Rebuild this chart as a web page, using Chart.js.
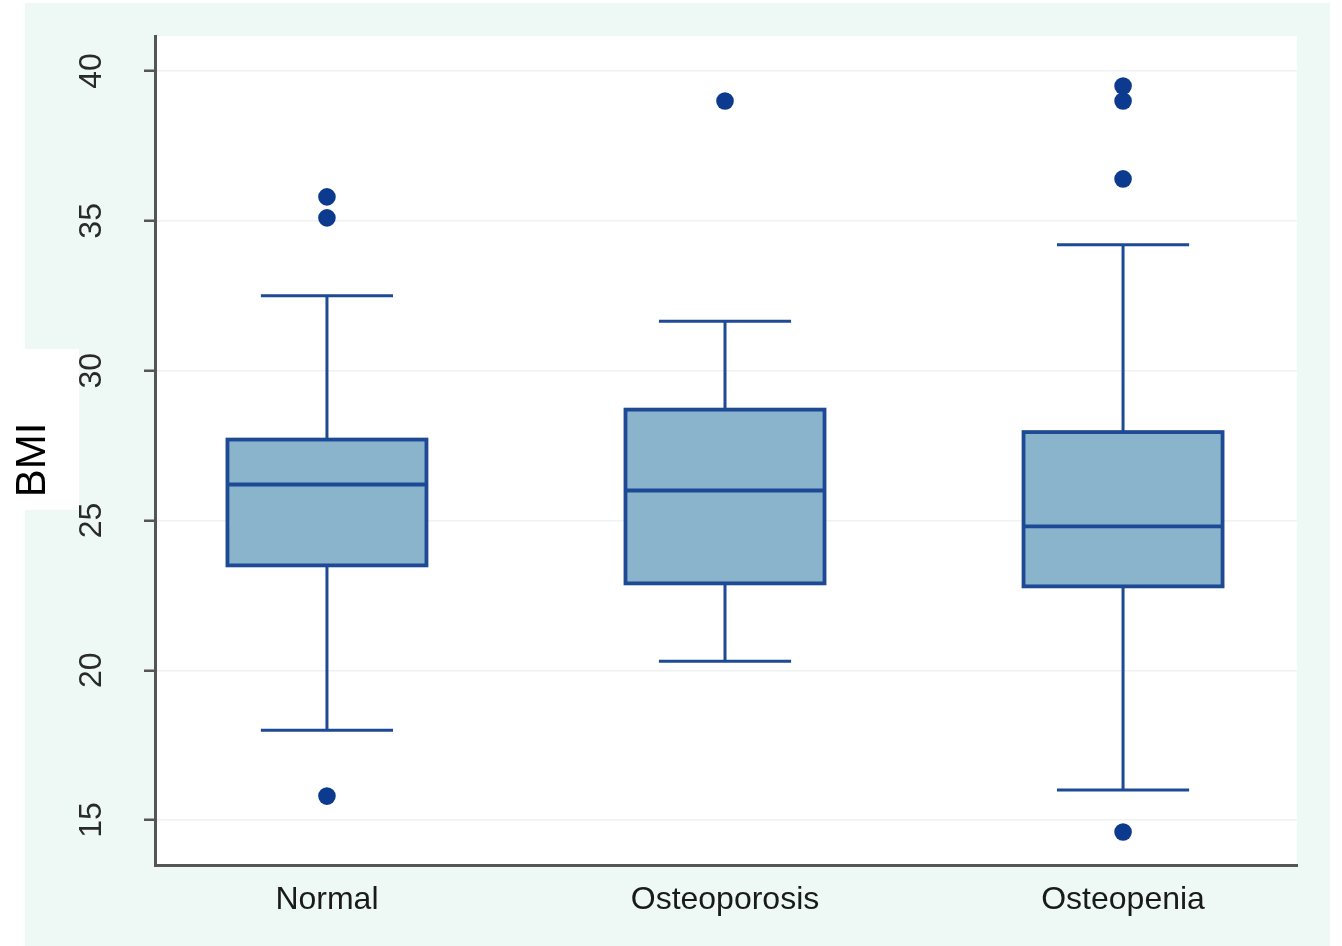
<!DOCTYPE html>
<html>
<head>
<meta charset="utf-8">
<title>BMI box plot</title>
<script src="https://cdn.jsdelivr.net/npm/chart.js@4/dist/chart.umd.min.js"></script>
<style>
  html, body { margin: 0; padding: 0; background: #fff; }
  #wrap { position: relative; width: 1342px; height: 946px; }
  #bmiBox {
    position: absolute; left: 25px; top: 349px; width: 54px; height: 161px;
    background: #fff;
  }
  #bmiBox span {
    position: absolute; left: 6px; top: 111px;
    transform: translate(-50%, -50%) rotate(-90deg);
    font: 42px "Liberation Sans", Arial, sans-serif; color: #000;
    white-space: nowrap;
  }
</style>
</head>
<body>
<div id="wrap">
  <canvas id="boxChart" width="1342" height="946"></canvas>
  <div id="bmiBox"><span>BMI</span></div>
</div>
<script>
// Data
const categories = ["Normal", "Osteoporosis", "Osteopenia"];
const whiskerLow = [18.0, 20.3, 16.0];
const q1 = [23.5, 22.9, 22.8];
const median = [26.2, 26.0, 24.8];
const q3 = [27.7, 28.7, 27.95];
const whiskerHigh = [32.5, 31.65, 34.2];
const outliers = [
  [15.8, 35.1, 35.8],
  [39.0],
  [14.6, 36.4, 39.0, 39.5],
];
const yTicks = [15, 20, 25, 30, 35, 40];

// Styles
const boxFill = "#8ab3cc";
const boxLine = "#1e4a95";
const dotColor = "#0b3a8f";
const boxWidth = 0.5;   // in x units
const capWidth = 0.332;

// Mint page background + white plot area
const backgroundPlugin = {
  id: "background",
  beforeDraw(chart) {
    const { ctx, chartArea } = chart;
    ctx.save();
    ctx.fillStyle = "#eef9f6";
    ctx.fillRect(25, 3, 1305, 943);
    ctx.fillStyle = "#ffffff";
    ctx.fillRect(chartArea.left, chartArea.top, chartArea.right - chartArea.left, chartArea.bottom - chartArea.top);
    ctx.restore();
  },
};

// Boxes and whiskers drawn through the chart scales
const boxPlugin = {
  id: "boxes",
  beforeDatasetsDraw(chart) {
    const { ctx } = chart;
    const x = chart.scales.x;
    const y = chart.scales.y;
    ctx.save();
    ctx.strokeStyle = boxLine;
    ctx.lineCap = "butt";
    categories.forEach((cat, i) => {
      const cx = x.getPixelForValue(i + 1);
      const bl = x.getPixelForValue(i + 1 - boxWidth / 2);
      const br = x.getPixelForValue(i + 1 + boxWidth / 2);
      const cl = x.getPixelForValue(i + 1 - capWidth / 2);
      const cr = x.getPixelForValue(i + 1 + capWidth / 2);
      const yLo = y.getPixelForValue(whiskerLow[i]);
      const yQ1 = y.getPixelForValue(q1[i]);
      const yMed = y.getPixelForValue(median[i]);
      const yQ3 = y.getPixelForValue(q3[i]);
      const yHi = y.getPixelForValue(whiskerHigh[i]);

      // whiskers
      ctx.lineWidth = 3;
      ctx.beginPath();
      ctx.moveTo(cx, yHi); ctx.lineTo(cx, yQ3);
      ctx.moveTo(cx, yQ1); ctx.lineTo(cx, yLo);
      ctx.moveTo(cl, yHi); ctx.lineTo(cr, yHi);
      ctx.moveTo(cl, yLo); ctx.lineTo(cr, yLo);
      ctx.stroke();

      // box
      ctx.fillStyle = boxFill;
      ctx.fillRect(bl, yQ3, br - bl, yQ1 - yQ3);
      ctx.lineWidth = 3.8;
      ctx.strokeRect(bl, yQ3, br - bl, yQ1 - yQ3);

      // median
      ctx.beginPath();
      ctx.moveTo(bl, yMed); ctx.lineTo(br, yMed);
      ctx.stroke();
    });
    ctx.restore();
  },
};

const outlierPoints = [];
categories.forEach((cat, i) => {
  outliers[i].forEach((v) => outlierPoints.push({ x: i + 1, y: v }));
});

new Chart(document.getElementById("boxChart"), {
  type: "scatter",
  data: {
    datasets: [
      {
        label: "Outliers",
        data: outlierPoints,
        backgroundColor: dotColor,
        borderWidth: 0,
        pointRadius: 8.8,
        pointHoverRadius: 8.8,
      },
    ],
  },
  options: {
    responsive: false,
    animation: false,
    events: [],
    layout: { padding: { left: 0, top: 36, right: 45, bottom: 0 } },
    plugins: {
      legend: { display: false },
      tooltip: { enabled: false },
    },
    scales: {
      x: {
        type: "linear",
        min: 0.568,
        max: 3.437,
        afterBuildTicks: (s) => {
          s.ticks = categories.map((c, i) => ({ value: i + 1 }));
        },
        afterFit: (s) => {
          s.height = 81;
          s.paddingLeft = 0;
          s.paddingRight = 0;
        },
        grid: { display: false, drawTicks: false },
        border: { display: true, color: "#555", width: 3 },
        ticks: {
          autoSkip: false,
          maxRotation: 0,
          padding: 16,
          color: "#1a1a1a",
          font: { family: "'Liberation Sans', Arial, sans-serif", size: 32 },
          callback: (v) => categories[v - 1],
        },
      },
      y: {
        type: "linear",
        min: 13.5,
        max: 41.17,
        afterBuildTicks: (s) => {
          s.ticks = yTicks.map((v) => ({ value: v }));
        },
        afterFit: (s) => {
          s.width = 155;
          s.paddingTop = 0;
          s.paddingBottom = 0;
        },
        grid: {
          color: "#eef2f2",
          lineWidth: 1.5,
          tickColor: "#555",
          tickWidth: 2.5,
          tickLength: 11,
        },
        border: { display: true, color: "#555", width: 3 },
        ticks: {
          minRotation: 90,
          maxRotation: 90,
          crossAlign: "center",
          padding: 34,
          color: "#2a2a2a",
          font: { family: "'Liberation Sans', Arial, sans-serif", size: 32 },
        },
      },
    },
  },
  plugins: [backgroundPlugin, boxPlugin],
});
</script>
</body>
</html>
